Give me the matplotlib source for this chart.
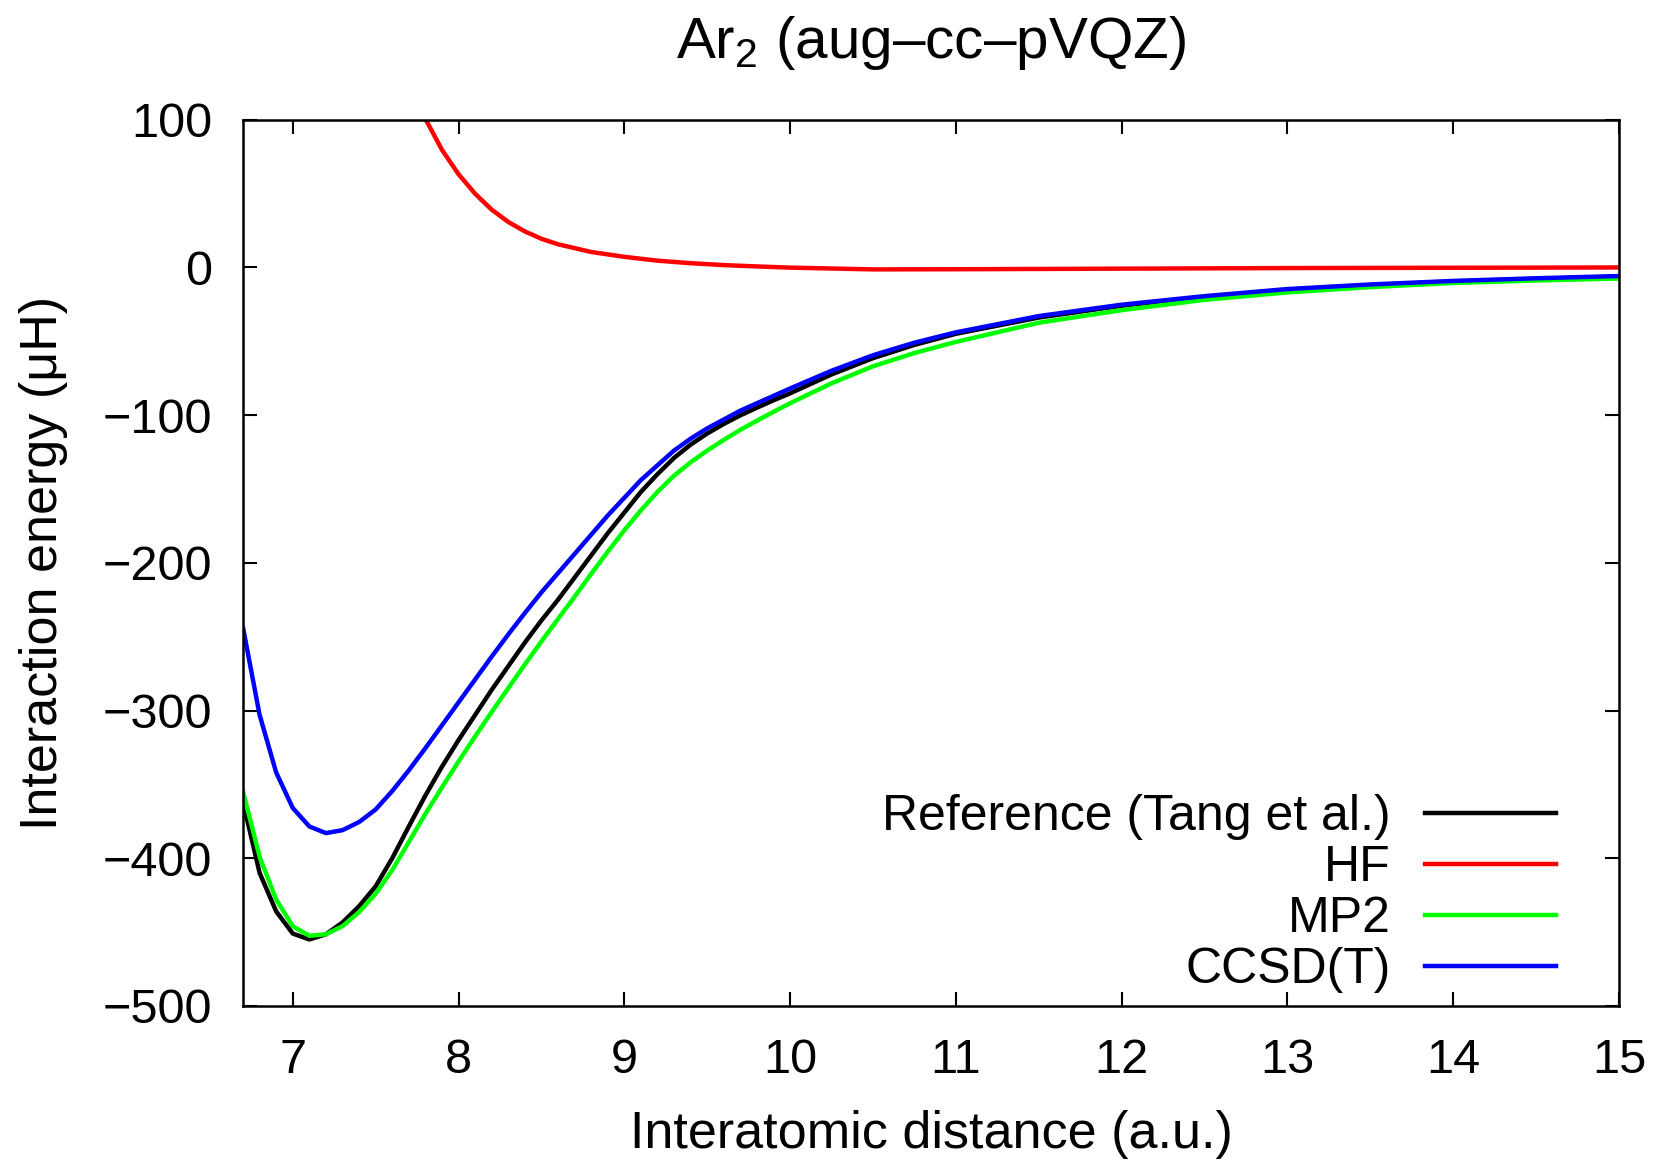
import matplotlib
matplotlib.use("Agg")
import matplotlib.pyplot as plt

plt.rcParams['font.family'] = ['Liberation Sans', 'DejaVu Sans']
plt.rcParams['mathtext.fontset'] = 'custom'
plt.rcParams['mathtext.rm'] = 'Liberation Sans'

# interatomic distance (bohr) for the correlated curves
r = [6.70, 6.80, 6.90, 7.00, 7.10, 7.20, 7.30, 7.40, 7.50, 7.60,
     7.70, 7.80, 7.90, 8.00, 8.10, 8.20, 8.30, 8.40, 8.50, 8.60,
     8.70, 8.80, 8.90, 9.00, 9.10, 9.20, 9.30, 9.40, 9.50, 9.60,
     9.70, 9.80, 9.90, 10.0, 10.25, 10.5, 10.75, 11.0, 11.5, 12.0,
     12.5, 13.0, 13.5, 14.0, 14.5, 15.0]

# interaction energies in micro-Hartree
ref_tang = [-362, -410, -436, -451, -455, -451.5, -443.5, -432.5, -419, -400,
            -378.5, -357.5, -338, -320, -303, -286, -270, -254, -239, -225,
            -210, -195, -180, -166, -152, -140, -129, -120, -112.5, -106,
            -100.2, -95, -90, -85.3, -72.5, -61.5, -52.5, -45, -34, -26,
            -20, -15.2, -12, -9.6, -7.8, -6.3]
mp2 = [-355, -399, -428, -446, -452.5, -451.5, -446, -436.5, -424, -408,
       -389, -370, -352, -334.5, -317.5, -301, -284.8, -268.8, -253.2, -238,
       -223, -207.5, -192.5, -178, -164.5, -152, -141, -132, -124, -116.8,
       -110, -103.8, -97.8, -92, -78.5, -67, -58, -50.5, -37.5, -29,
       -22, -17, -13.4, -10.6, -8.9, -7.6]
ccsdt = [-244, -303, -342, -366, -378.5, -383, -381, -375.5, -367, -354.5,
         -340.5, -325.5, -310, -294.5, -279, -263.5, -248.5, -234, -220, -207,
         -194, -181, -168, -156, -144, -134, -124, -116, -109, -103,
         -97, -92, -87, -82, -70, -59.5, -51, -44, -33, -25.3,
         -19.5, -14.7, -11.6, -9.2, -7.4, -5.9]

# HF only enters the plotted window from about 7.8 bohr
r_hf = [7.7, 7.8, 7.9, 8.0, 8.1, 8.2, 8.3, 8.4, 8.5, 8.6,
        8.8, 9.0, 9.2, 9.4, 9.6, 9.8, 10.0, 10.5, 11.0, 11.5,
        12.0, 13.0, 14.0, 15.0]
hf = [127, 100.5, 79.5, 63.0, 49.8, 39.0, 30.7, 24.3, 19.3, 15.6,
      10.4, 7.1, 4.5, 2.8, 1.5, 0.6, -0.2, -1.4, -1.3, -1.1,
      -0.9, -0.5, -0.3, -0.1]

xticks = [7, 8, 9, 10, 11, 12, 13, 14, 15]
yticks = [-500, -400, -300, -200, -100, 0, 100]

fs = 35
lw = 3.2

fig = plt.figure(figsize=(16.59, 11.60), dpi=100)
ax = fig.add_axes([0.1465, 0.1328, 0.8294, 0.7641])

ax.plot(r, ref_tang, color='black', lw=lw, label='Reference (Tang et al.)')
ax.plot(r_hf, hf, color='#ff0000', lw=lw, label='HF')
ax.plot(r, mp2, color='#00ff00', lw=lw, label='MP2')
ax.plot(r, ccsdt, color='#0000ff', lw=lw, label='CCSD(T)')

ax.set_xlim(6.7, 15)
ax.set_ylim(-500, 100)
ax.set_xticks(xticks)
ax.set_yticks(yticks)
ax.tick_params(direction='in', length=10, width=1.5, top=True, right=True,
               labelsize=fs)
ax.tick_params(axis='x', pad=23)
ax.tick_params(axis='y', pad=22)
for s in ax.spines.values():
    s.set_linewidth(1.8)

ax.set_title('Ar$_2$ (aug\u2013cc\u2013pVQZ)', fontsize=42, pad=44)
ax.set_xlabel('Interatomic distance (a.u.)', fontsize=37.5)
ax.set_ylabel('Interaction energy (\u03bcH)', fontsize=37.5)
ax.xaxis.set_label_coords(0.5, -0.117)
ax.yaxis.set_label_coords(-0.1275, 0.5)

ax.legend(loc='lower right', bbox_to_anchor=(0.98, -0.025), frameon=False,
          markerfirst=False, fontsize=36, handlelength=2.62,
          handletextpad=0.7, labelspacing=0.1, borderpad=0.2)

fig.savefig('out.png', dpi=100)
